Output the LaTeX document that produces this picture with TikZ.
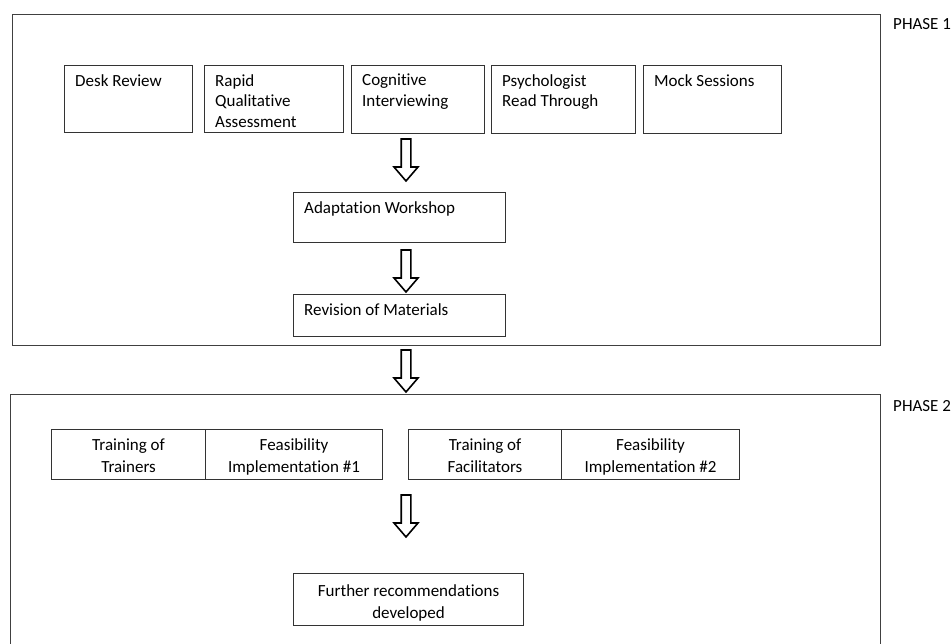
\documentclass[tikz,border=0pt]{standalone}
\usepackage{fontspec}
\setmainfont{Carlito}[Ligatures=NoCommon]
\usetikzlibrary{positioning}
\tikzset{
  frame/.style={draw=black!75, line width=1.3pt, rectangle, inner sep=0pt, anchor=north west},
  stepbox/.style={draw=black!80, line width=1.1pt, rectangle, inner sep=0pt, anchor=north west},
  boxtext/.style={anchor=north west, inner sep=0pt, align=left, font=\fontsize{17}{20.5}\selectfont},
  ctext/.style={inner sep=0pt, align=center, font=\fontsize{17}{22}\selectfont},
  phase/.style={anchor=west, inner sep=0pt, font=\fontsize{17}{20}\selectfont},
  hollow/.style={draw=black, line width=1.6pt, fill=white, line join=miter},
}
% hollow down arrow: #1 = coordinate of the top centre
\newcommand{\hollowdown}[1]{%
  \draw[hollow] ([xshift=-4.8pt]#1) -- ([xshift=4.8pt]#1) -- ([shift={(4.8pt,-28pt)}]#1)
    -- ([shift={(12pt,-28pt)}]#1) -- ([yshift=-42pt]#1) -- ([shift={(-12pt,-28pt)}]#1)
    -- ([shift={(-4.8pt,-28pt)}]#1) -- cycle;}
\begin{document}
\begin{tikzpicture}[x=1pt,y=-1pt]
\useasboundingbox (0,0) rectangle (952,644);
\clip (0,0) rectangle (952,644);
% Phase frames
\node[frame, minimum width=868pt, minimum height=331pt] (p1) at (12,14) {};
\node[frame, minimum width=870pt, minimum height=300pt] (p2) at (10,394) {};
\node[phase] (p1l) at (893,24) {PHASE 1};
\node[phase] (p2l) at (893,406) {PHASE 2};
% Top row
\node[stepbox, minimum width=128pt, minimum height=67pt] (desk) at (64,65) {};
\node[boxtext] (deskt) at ([shift={(11pt,-9pt)}]desk.north west) {Desk Review};
\node[stepbox, minimum width=139pt, minimum height=67pt] (rqa) at (204,65) {};
\node[boxtext] (rqat) at ([shift={(11pt,-9pt)}]rqa.north west) {Rapid\\Qualitative\\Assessment};
\node[stepbox, minimum width=133pt, minimum height=68pt] (cog) at (351,65) {};
\node[boxtext] (cogt) at ([shift={(11pt,-9pt)}]cog.north west) {Cognitive\\Interviewing};
\node[stepbox, minimum width=144pt, minimum height=68pt] (psy) at (491,65) {};
\node[boxtext] (psyt) at ([shift={(11pt,-9pt)}]psy.north west) {Psychologist\\Read Through};
\node[stepbox, minimum width=138pt, minimum height=68pt] (mock) at (643,65) {};
\node[boxtext] (mockt) at ([shift={(11pt,-9pt)}]mock.north west) {Mock Sessions};
% Middle
\node[stepbox, minimum width=212pt, minimum height=50pt] (adapt) at (293,192) {};
\node[boxtext] (adaptt) at ([shift={(11pt,-9pt)}]adapt.north west) {Adaptation Workshop};
\node[stepbox, minimum width=212pt, minimum height=42pt] (rev) at (293,294) {};
\node[boxtext] (revt) at ([shift={(11pt,-9pt)}]rev.north west) {Revision of Materials};
% Phase 2 row
\node[stepbox, minimum width=154pt, minimum height=50pt] (tot) at (51,429) {};
\node[ctext] (tott) at ([yshift=-2.5pt]tot.center) {Training of\strut\\Trainers\strut};
\node[stepbox, minimum width=177pt, minimum height=50pt] (fi1) at (205,429) {};
\node[ctext] (fi1t) at ([yshift=-2.5pt]fi1.center) {Feasibility\strut\\Implementation \#1\strut};
\node[stepbox, minimum width=153pt, minimum height=50pt] (tof) at (408,429) {};
\node[ctext] (toft) at ([yshift=-2.5pt]tof.center) {Training of\strut\\Facilitators\strut};
\node[stepbox, minimum width=178pt, minimum height=50pt] (fi2) at (561,429) {};
\node[ctext] (fi2t) at ([yshift=-2.5pt]fi2.center) {Feasibility\strut\\Implementation \#2\strut};
\node[stepbox, minimum width=230pt, minimum height=52pt] (fur) at (293,573) {};
\node[ctext] (furt) at ([yshift=-4pt]fur.center) {Further recommendations\strut\\developed\strut};
% Hollow arrows
\coordinate (a1) at (406,139);
\coordinate (a2) at (406,250);
\coordinate (a3) at (406,350);
\coordinate (a4) at (406,495);
\hollowdown{a1}
\hollowdown{a2}
\hollowdown{a3}
\hollowdown{a4}
\end{tikzpicture}
\end{document}
